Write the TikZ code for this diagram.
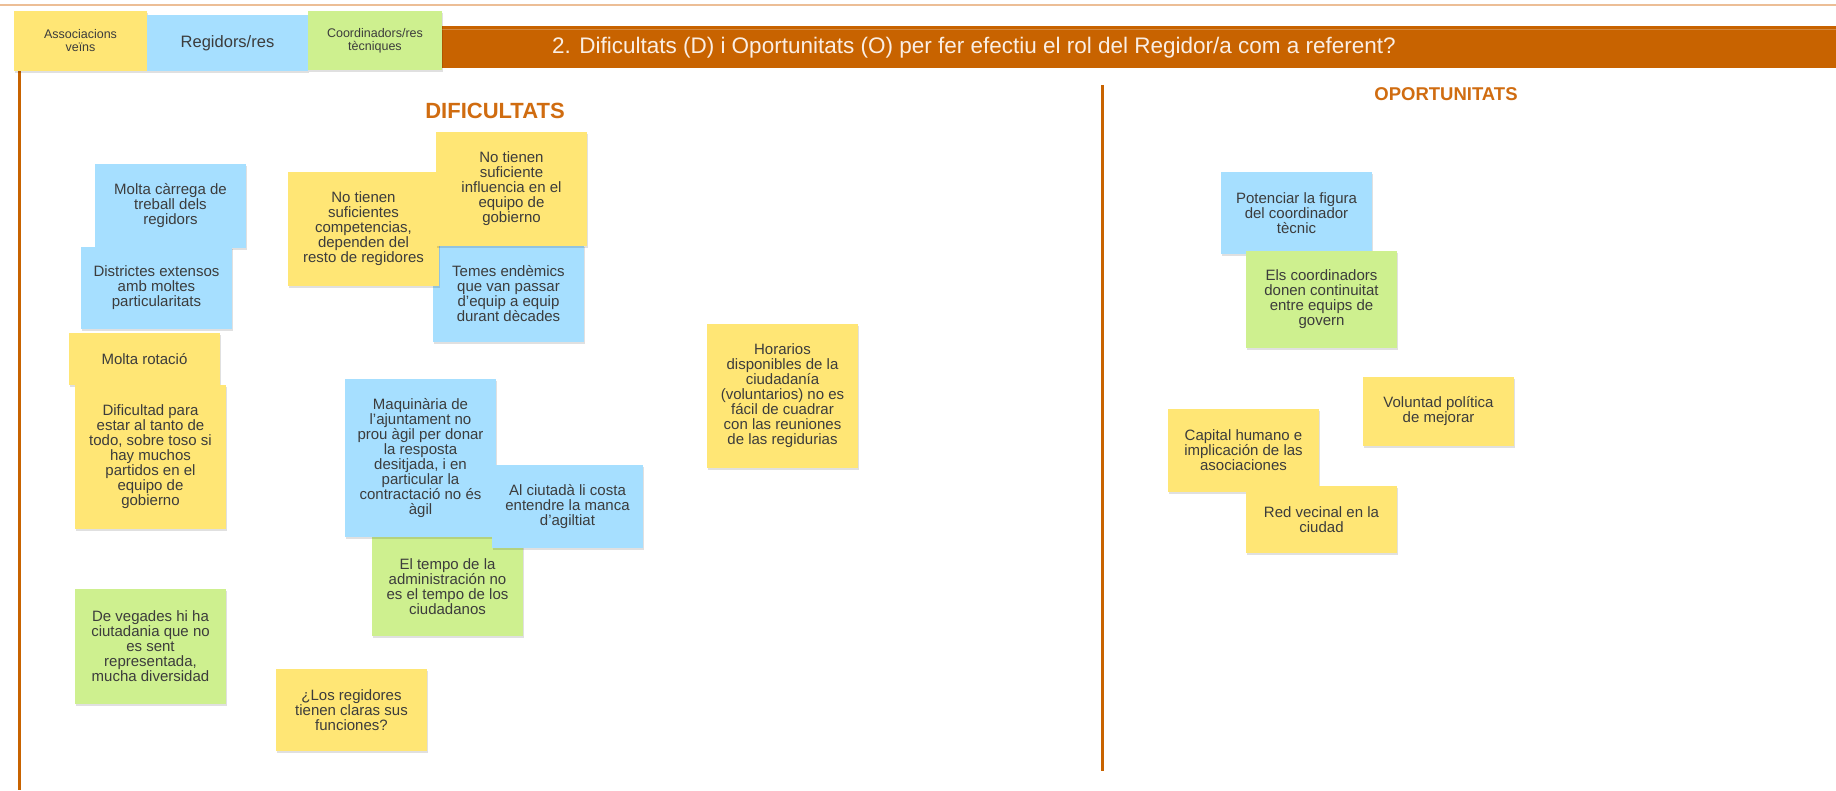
\documentclass[tikz,border=0pt]{standalone}
\usepackage{fontspec}
\setmainfont{Liberation Sans}
\usetikzlibrary{shadows}
\definecolor{yel}{RGB}{255,230,117}
\definecolor{blu}{RGB}{166,223,255}
\definecolor{grn}{RGB}{206,240,143}
\definecolor{barc}{RGB}{200,99,0}
\definecolor{headc}{RGB}{208,108,16}
\definecolor{topline}{RGB}{236,190,150}
\definecolor{txt}{RGB}{60,60,60}
\tikzset{
  note/.style={draw=none, inner sep=0pt, align=center, text=txt, minimum width=151pt,
    font=\fontsize{15}{15}\selectfont,
    drop shadow={shadow xshift=1pt, shadow yshift=-1.5pt, opacity=0.12, fill=black}},
  legend/.style={draw=none, inner sep=0pt, align=center, text=txt,
    drop shadow={shadow xshift=1pt, shadow yshift=-1.5pt, opacity=0.12, fill=black}},
  sephead/.style={font=\bfseries, text=headc, inner sep=0pt},
  vline/.style={draw=barc, line width=3pt}
}
\begin{document}
\begin{tikzpicture}[x=1pt,y=-1pt]
\useasboundingbox[fill=white] (0,0) rectangle (1836,790);
% top thin line
\draw[topline, line width=1.5pt] (0,5) -- (1836,5);
% header bar
\fill[barc] (442,26) rectangle (1836,68);
\draw[white, opacity=0.25, line width=1pt] (442,29.5) -- (1836,29.5);
\node[text={rgb,255:red,250;green,238;blue,228}, font=\fontsize{22.5}{26}\selectfont, inner sep=0pt] (title) at (974,48)
  {2. Dificultats (D) i Oportunitats (O) per fer efectiu el rol del Regidor/a com a referent?};
% vertical lines
\coordinate (l1a) at (19,70);
\coordinate (l1b) at (19,790);
\coordinate (l2a) at (1102,85);
\coordinate (l2b) at (1102,771);
\draw[vline] (l1a) -- (l1b);
\draw[vline] (l2a) -- (l2b);
% legend
\node[legend, fill=yel, minimum width=133pt, minimum height=60pt, font=\fontsize{12.5}{13}\selectfont] (lg1) at (80.5,41) {Associacions\\veïns};
\node[legend, fill=blu, minimum width=161pt, minimum height=56pt, font=\fontsize{16.5}{18}\selectfont] (lg2) at (227.5,43) {Regidors/res};
\node[legend, fill=grn, minimum width=134pt, minimum height=59pt, font=\fontsize{12.5}{13}\selectfont] (lg3) at (375,40.5) {Coordinadors/res\\tècniques};
% section headers
\node[sephead, font=\bfseries\fontsize{22}{24}\selectfont] (hd) at (495,111) {DIFICULTATS};
\node[sephead, font=\bfseries\fontsize{18.5}{20}\selectfont] (ho) at (1446,94) {OPORTUNITATS};
% notes - dificultats
\node[note, fill=blu, minimum height=84pt] (n1) at (170.5,206) {Molta càrrega de\\treball dels\\regidors};
\node[note, fill=blu, minimum height=82pt] (n2) at (156.5,288) {Districtes extensos\\amb moltes\\particularitats};
\node[note, fill=yel, minimum height=52pt] (n3) at (144.5,359) {Molta rotació};
\node[note, fill=yel, minimum height=144pt] (n4) at (150.5,457) {Dificultad para\\estar al tanto de\\todo, sobre toso si\\hay muchos\\partidos en el\\equipo de\\gobierno};
\node[note, fill=blu, minimum height=97pt] (n7) at (508.5,293.5) {Temes endèmics\\que van passar\\d'equip a equip\\durant dècades};
\node[note, fill=yel, minimum height=114pt] (n5) at (363.5,229) {No tienen\\suficientes\\competencias,\\dependen del\\resto de regidores};
\node[note, fill=yel, minimum height=114pt] (n6) at (511.5,189) {No tienen\\suficiente\\influencia en el\\equipo de\\gobierno};
\node[note, fill=grn, minimum height=99pt] (n10) at (447.5,586.5) {El tempo de la\\administración no\\es el tempo de los\\ciudadanos};
\node[note, fill=blu, minimum height=158pt] (n8) at (420.5,458) {Maquinària de\\l'ajuntament no\\prou àgil per donar\\la resposta\\desitjada, i en\\particular la\\contractació no és\\àgil};
\node[note, fill=blu, minimum height=83pt] (n9) at (567.5,506.5) {Al ciutadà li costa\\entendre la manca\\d'agiltiat};
\node[note, fill=yel, minimum height=144pt] (n11) at (782.5,396) {Horarios\\disponibles de la\\ciudadanía\\(voluntarios) no es\\fácil de cuadrar\\con las reuniones\\de las regidurias};
\node[note, fill=grn, minimum height=115pt] (n12) at (150.5,646.5) {De vegades hi ha\\ciutadania que no\\es sent\\representada,\\mucha diversidad};
\node[note, fill=yel, minimum height=82pt] (n13) at (351.5,710) {¿Los regidores\\tienen claras sus\\funciones?};
% notes - oportunitats
\node[note, fill=blu, minimum height=82pt] (n14) at (1296.5,213) {Potenciar la figura\\del coordinador\\tècnic};
\node[note, fill=grn, minimum height=97pt] (n15) at (1321.5,299.5) {Els coordinadors\\donen continuitat\\entre equips de\\govern};
\node[note, fill=yel, minimum height=69pt] (n16) at (1438.5,411.5) {Voluntad política\\de mejorar};
\node[note, fill=yel, minimum height=83pt] (n17) at (1243.5,450.5) {Capital humano e\\implicación de las\\asociaciones};
\node[note, fill=yel, minimum height=67pt] (n18) at (1321.5,519.5) {Red vecinal en la\\ciudad};
\end{tikzpicture}
\end{document}
